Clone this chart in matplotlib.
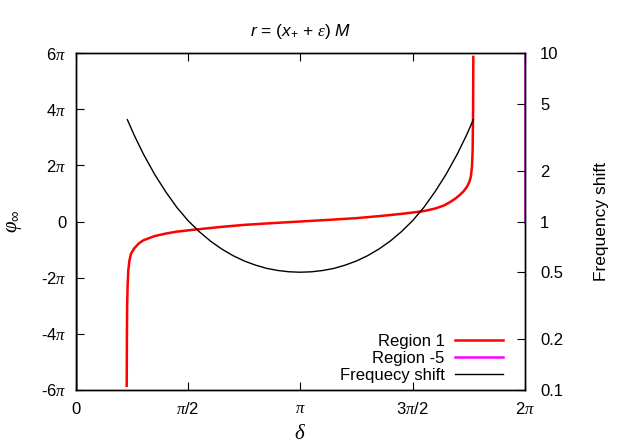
import numpy as np
import matplotlib
matplotlib.use("Agg")
import matplotlib.pyplot as plt

plt.rcParams['font.family'] = ['Liberation Sans', 'DejaVu Sans']
plt.rcParams['mathtext.fontset'] = 'custom'
plt.rcParams['mathtext.rm'] = 'Liberation Sans'
plt.rcParams['mathtext.it'] = 'Liberation Sans:italic'
plt.rcParams['mathtext.sf'] = 'Liberation Serif:italic'

# delta in units of pi, phi in units of pi
region1_x = [0.226, 0.227, 0.228, 0.230, 0.233, 0.238, 0.245, 0.26, 0.28, 0.30,
             0.35, 0.40, 0.45, 0.54, 0.65, 0.75, 0.87, 1.0,
             1.13, 1.25, 1.35, 1.46, 1.55, 1.60, 1.64, 1.667, 1.69, 1.71,
             1.728, 1.742, 1.753, 1.760, 1.765, 1.768, 1.770, 1.771]
region1_y = [-5.85, -4.0, -3.0, -2.3, -1.75, -1.4, -1.15, -0.95, -0.78, -0.67,
             -0.52, -0.43, -0.36, -0.28, -0.19, -0.12, -0.06, 0.0,
             0.06, 0.12, 0.19, 0.28, 0.37, 0.46, 0.57, 0.69, 0.81, 0.94,
             1.08, 1.23, 1.40, 1.60, 1.95, 2.55, 4.0, 5.86]

# region -5 only shows up at the two edges
region5_x = [0, 0, np.nan, 2, 2]
region5_y = [-6, 0, np.nan, 0, 6]

freq_x = [0.229, 0.26, 0.30, 0.35, 0.40, 0.45, 0.50, 0.55, 0.60, 0.65, 0.70,
          0.75, 0.80, 0.85, 0.90, 0.95, 1.0, 1.05, 1.10, 1.15, 1.20, 1.25,
          1.30, 1.35, 1.40, 1.45, 1.50, 1.55, 1.60, 1.65, 1.70, 1.74, 1.771]
freq_y = [4.02, 3.24, 2.52, 1.91, 1.50, 1.21, 1.01, 0.869, 0.764, 0.686, 0.627,
          0.583, 0.551, 0.527, 0.512, 0.503, 0.500, 0.503, 0.512, 0.527, 0.551, 0.583,
          0.627, 0.686, 0.764, 0.869, 1.01, 1.21, 1.50, 1.91, 2.52, 3.24, 4.02]

xticks = [0, 0.5, 1, 1.5, 2]
xticklabels = [r'$0$', r'$\mathsf{π}$/2', r'$\mathsf{π}$', r'3$\mathsf{π}$/2', r'2$\mathsf{π}$']
yticks = [-6, -4, -2, 0, 2, 4, 6]
yticklabels = [r'-6$\mathsf{π}$', r'-4$\mathsf{π}$', r'-2$\mathsf{π}$', '0',
               r'2$\mathsf{π}$', r'4$\mathsf{π}$', r'6$\mathsf{π}$']
rticks = [0.1, 0.2, 0.5, 1, 2, 5, 10]
rticklabels = ['0.1', '0.2', '0.5', '1', '2', '5', '10']

fig = plt.figure(figsize=(6.38, 4.47), dpi=100)
ax = fig.add_axes([76/638, 57/447, 448.7/638, 337/447])
ax2 = ax.twinx()

pi = np.pi
l1, = ax.plot(np.array(region1_x)*pi, np.array(region1_y)*pi, color='red', lw=1.8, label='Region 1')
l2, = ax.plot(np.array(region5_x)*pi, np.array(region5_y)*pi, color='magenta', lw=1.8, label='Region -5')
l3, = ax2.plot(np.array(freq_x)*pi, freq_y, color='black', lw=1.0, label='Frequecy shift')

ax.set_xlim(0, 2*pi)
ax.set_ylim(-6*pi, 6*pi)
ax.set_xticks(np.array(xticks)*pi)
ax.set_xticklabels(xticklabels)
ax.set_yticks(np.array(yticks)*pi)
ax.set_yticklabels(yticklabels)
ax.tick_params(axis='both', direction='in', length=6, width=0.8, labelsize=12, top=True)
ax.tick_params(axis='x', pad=8)
ax.tick_params(axis='y', pad=7)

ax2.set_yscale('log')
ax2.set_ylim(0.1, 10)
ax2.set_yticks(rticks)
ax2.set_yticklabels(rticklabels)
ax2.minorticks_off()
ax2.tick_params(axis='y', direction='in', length=6, width=0.8, labelsize=12, pad=11)

for a in (ax, ax2):
    for s in a.spines.values():
        s.set_linewidth(1.0)

ax.set_xlabel(r'$\mathsf{δ}$', fontsize=15)
ax.xaxis.set_label_coords(0.5, -0.1)
ax.set_ylabel(r'$\mathsf{φ}_{∞}$', fontsize=15)
ax.yaxis.set_label_coords(-0.115, 0.5)
ax2.set_ylabel('Frequency shift', fontsize=12.5)
ax2.yaxis.set_label_coords(1.155, 0.5)
ax.set_title(r'$r$ = ($x_{+}$ + $\mathsf{ε}$) $M$', fontsize=12.5, pad=12)

leg = ax.legend(handles=[l1, l2, l3], loc='lower right', frameon=False, markerfirst=False,
                fontsize=12, handlelength=2.9, handletextpad=0.6, labelspacing=0.12,
                borderpad=0, borderaxespad=0, bbox_to_anchor=(0.952, 0.02))
for col in leg._legend_handle_box.get_children():
    col.align = 'right'

fig.savefig('out.png', dpi=100)
